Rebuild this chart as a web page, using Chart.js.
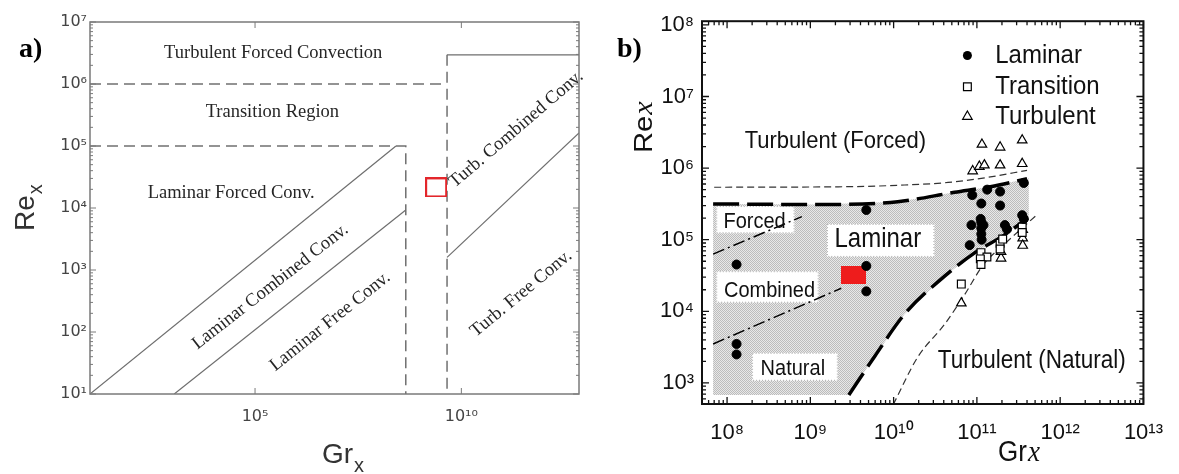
<!DOCTYPE html>
<html>
<head>
<meta charset="utf-8">
<title>Mixed convection regime maps</title>
<script src="https://cdn.jsdelivr.net/npm/chart.js@4.4.1/dist/chart.umd.min.js"></script>
<style>
  html, body { margin: 0; padding: 0; background: #fff; }
  #page { position: relative; width: 1179px; height: 474px; overflow: hidden; background: #fff; }
  #regimeA { position: absolute; left: 0; top: 0; }
  #regimeB { position: absolute; left: 590px; top: 0; }
</style>
</head>
<body>
<div id="page">
  <canvas id="regimeA" width="590" height="474"></canvas>
  <canvas id="regimeB" width="589" height="474"></canvas>
</div>
<script>
// ---- a) regime map: boundary lines (Gr_x, Re_x) ----
const aLamForcedGr = [10, 2.6e8];
const aLamForcedRe = [10, 1e5];
const aLamFreeGr = [1.1e3, 4.5e8];
const aLamFreeRe = [10, 9.3e3];
const aTurbFreeGr = [4.5e9, 7.1e12];
const aTurbFreeRe = [1.6e3, 1.62e5];
const aTurbForcedGr = [4.5e9, 7.1e12];
const aTurbForcedRe = [2.95e6, 2.95e6];
const aTransLowGr = [10, 4.5e8, 4.5e8];
const aTransLowRe = [1e5, 1e5, 10];
const aTransHighGr = [10, 4.5e9];
const aTransHighRe = [1e6, 1e6];
const aTransVertGr = [4.5e9, 4.5e9];
const aTransVertRe = [2.95e6, 10];
const aCaseGr = [2.45e9];
const aCaseRe = [2.15e4];

const aXTickValues = [1e5, 1e10];
const aXTickLabels = ['10⁵', '10¹⁰'];
const aYTickValues = [1e1, 1e2, 1e3, 1e4, 1e5, 1e6, 1e7];
const aYTickLabels = ['10¹', '10²', '10³', '10⁴', '10⁵', '10⁶', '10⁷'];

// ---- b) measurements and boundaries ----
const bLamGr = [1.3e8, 1.3e8, 1.3e8, 4.7e9, 4.7e9, 4.7e9, 8.8e10, 1.33e11, 1.9e11, 3.66e11, 1.13e11, 1.9e11,
                1.11e11, 8.6e10, 1.13e11, 1.13e11, 1.13e11, 1.14e11, 8.2e10, 2.17e11, 3.5e11, 3.66e11, 2.3e11, 1.2e11];
const bLamRe = [4.5e4, 3.5e3, 2.5e3, 2.6e5, 4.3e4, 1.9e4, 4.2e5, 5.0e5, 4.7e5, 6.2e5, 3.2e5, 3.0e5,
                1.95e5, 1.6e5, 1.75e5, 1.45e5, 1.2e5, 1.0e5, 8.4e4, 1.6e5, 2.2e5, 1.95e5, 1.4e5, 1.6e5];
const bTransGr = [6.5e10, 1.12e11, 1.32e11, 1.1e11, 1.12e11, 1.9e11, 2.04e11, 1.9e11, 3.5e11, 3.5e11];
const bTransRe = [2.4e4, 6.6e4, 5.75e4, 5.4e4, 4.5e4, 8.9e4, 1.02e5, 7.4e4, 1.5e5, 1.26e5];
const bTurbGr = [1.15e11, 1.9e11, 3.5e11, 8.9e10, 1.07e11, 1.23e11, 1.9e11, 3.5e11, 3.55e11, 3.55e11, 3.55e11, 1.95e11, 1.95e11, 6.5e10];
const bTurbRe = [2.14e6, 1.95e6, 2.45e6, 9.1e5, 1.05e6, 1.1e6, 1.1e6, 1.15e6, 1.38e5, 1.05e5, 8.3e4, 5.5e4, 6.8e4, 1.3e4];
const bCaseGr = [3.3e9];
const bCaseRe = [3.2e4];

const bCritGr = [7.0e7, 2.9e9, 1.12e10, 4.5e10, 1.32e11, 4.0e11];
const bCritRe = [5.4e5, 5.5e5, 5.75e5, 6.3e5, 7.4e5, 9.3e5];
const bLamTopGr = [6.8e7, 1.26e9, 1.12e10, 5.4e10, 1.45e11, 4.0e11];
const bLamTopRe = [3.16e5, 3.1e5, 3.4e5, 4.6e5, 5.5e5, 7.1e5];
const bLamLowGr = [2.9e9, 6.0e9, 1.35e10, 4.1e10, 9.3e10, 2.1e11, 4.1e11];
const bLamLowRe = [680, 2.4e3, 9.1e3, 3.1e4, 6.5e4, 1.15e5, 2.0e5];
const bNatTurbGr = [9.9e9, 1.95e10, 4.1e10, 7.1e10, 1.2e11, 2.1e11, 5.2e11];
const bNatTurbRe = [500, 2.3e3, 6.6e3, 1.7e4, 4.5e4, 8.5e4, 2.2e5];
const bMixHiGr = [6.8e7, 7.9e8];
const bMixHiRe = [6.3e4, 2.1e5];
const bMixLoGr = [6.8e7, 2.35e9];
const bMixLoRe = [3.5e3, 2.1e4];
const bRegionGr = [6.8e7, 1.26e9, 1.12e10, 5.4e10, 1.45e11, 4.2e11, 4.2e11, 2.1e11, 9.3e10, 4.1e10, 1.35e10, 6.0e9, 2.9e9, 6.8e7, 6.8e7];
const bRegionRe = [3.16e5, 3.1e5, 3.4e5, 4.6e5, 5.5e5, 7.2e5, 2.0e5, 1.15e5, 6.5e4, 3.1e4, 9.1e3, 2.4e3, 680, 680, 3.16e5];

const bXTickValues = [1e8, 1e9, 1e10, 1e11, 1e12, 1e13];
const bXTickLabels = ['10⁸', '10⁹', '10¹⁰', '10¹¹', '10¹²', '10¹³'];
const bYTickValues = [1e3, 1e4, 1e5, 1e6, 1e7, 1e8];
const bYTickLabels = ['10³', '10⁴', '10⁵', '10⁶', '10⁷', '10⁸'];

const SANS = '"Liberation Sans", Arial, sans-serif';
const SERIF = '"Liberation Serif", "Times New Roman", serif';

const pts = (gr, re) => gr.map((g, i) => ({ x: g, y: re[i] }));

function logTicks(min, max, minor) {
  const out = [];
  for (let e = Math.floor(Math.log10(min)); e <= Math.ceil(Math.log10(max)); e++) {
    for (let m = 1; m < 10; m++) {
      if (m > 1 && !minor) continue;
      const v = m * Math.pow(10, e);
      if (v < min * 0.9999 || v > max * 1.0001) continue;
      out.push({ value: v, major: m === 1 });
    }
  }
  return out;
}

function labelFrom(values, labels) {
  return v => {
    const i = values.findIndex(t => Math.abs(t - v) <= t * 1e-6);
    return i < 0 ? '' : labels[i];
  };
}

function logAxis(min, max, tickList, labels, tickFont, color, pad, size, horizontal) {
  return {
    type: 'logarithmic', min, max, bounds: 'data',
    grid: { display: false, drawTicks: false },
    border: { display: false },
    afterBuildTicks: s => { s.ticks = tickList.map(t => ({ ...t })); },
    afterFit: s => { if (horizontal) s.height = size; else s.width = size; },
    ticks: { autoSkip: false, maxRotation: 0, minRotation: 0, padding: pad, color, font: tickFont, callback: labels }
  };
}

function makeRectMarker(w, h, fill, stroke, lw) {
  const c = document.createElement('canvas');
  c.width = w; c.height = h;
  const g = c.getContext('2d');
  if (fill) { g.fillStyle = fill; g.fillRect(0, 0, w, h); }
  if (stroke) { g.strokeStyle = stroke; g.lineWidth = lw; g.strokeRect(lw / 2, lw / 2, w - lw, h - lw); }
  return c;
}

function stipple(ctx) {
  const c = document.createElement('canvas');
  c.width = 2; c.height = 2;
  const g = c.getContext('2d');
  g.fillStyle = '#e8e8e8'; g.fillRect(0, 0, 2, 2);
  g.fillStyle = '#bcbcbc'; g.fillRect(0, 0, 1, 1); g.fillRect(1, 1, 1, 1);
  return ctx.createPattern(c, 'repeat');
}

function line(gr, re, dash, width, color, smooth) {
  return {
    type: 'line', data: pts(gr, re), borderColor: color, borderWidth: width, borderDash: dash,
    pointRadius: 0, fill: false, tension: 0, cubicInterpolationMode: smooth ? 'monotone' : 'default', order: 2
  };
}

function drawFrame(chart, st) {
  const { ctx, chartArea: a, scales: { x, y } } = chart;
  ctx.save();
  ctx.strokeStyle = st.color;
  ctx.lineWidth = st.tick;
  ctx.beginPath();
  y.ticks.forEach(t => {
    const p = y.getPixelForValue(t.value);
    const len = t.major ? st.major : st.minor;
    ctx.moveTo(a.left, p); ctx.lineTo(a.left + len, p);
    ctx.moveTo(a.right, p); ctx.lineTo(a.right - len, p);
  });
  x.ticks.forEach(t => {
    const p = x.getPixelForValue(t.value);
    const len = t.major ? st.major : st.minor;
    ctx.moveTo(p, a.bottom); ctx.lineTo(p, a.bottom - len);
    ctx.moveTo(p, a.top); ctx.lineTo(p, a.top + len);
  });
  ctx.stroke();
  ctx.lineWidth = st.width;
  ctx.strokeRect(a.left, a.top, a.right - a.left, a.bottom - a.top);
  ctx.restore();
}

function label(ctx, str, x, y, font, color, angle, sy) {
  ctx.save();
  ctx.translate(x, y);
  if (angle) ctx.rotate(angle * Math.PI / 180);
  if (sy) ctx.scale(1, sy);
  ctx.font = font;
  ctx.fillStyle = color;
  ctx.textAlign = 'center';
  ctx.textBaseline = 'middle';
  ctx.fillText(str, 0, 0);
  ctx.restore();
}

const at = (chart, gr, re) => [chart.scales.x.getPixelForValue(Math.pow(10, gr)), chart.scales.y.getPixelForValue(Math.pow(10, re))];

// ---------- panel a ----------
const aNotes = [
  { t: 'Turbulent Forced Convection', gr: 5.44, re: 6.495, rot: 0 },
  { t: 'Transition Region', gr: 5.42, re: 5.54, rot: 0 },
  { t: 'Laminar Forced Conv.', gr: 4.42, re: 4.24, rot: 0 },
  { t: 'Laminar Combined Conv.', gr: 5.37, re: 2.73, rot: -38 },
  { t: 'Laminar Free Conv.', gr: 6.82, re: 2.17, rot: -38.5 },
  { t: 'Turb. Combined Conv.', gr: 11.33, re: 5.27, rot: -40.5 },
  { t: 'Turb. Free Conv.', gr: 11.45, re: 2.62, rot: -39.5 }
];

const mapA = {
  id: 'mapA',
  afterDraw(chart) {
    const ctx = chart.ctx;
    drawFrame(chart, { color: '#7a7a7a', width: 1.5, tick: 1, major: 6, minor: 3 });
    aNotes.forEach(n => {
      const [x, y] = at(chart, n.gr, n.re);
      label(ctx, n.t, x, y, '18.5px ' + SERIF, '#262626', n.rot);
    });
    ctx.save();
    ctx.fillStyle = '#333';
    ctx.textAlign = 'left';
    ctx.textBaseline = 'alphabetic';
    ctx.font = '28px ' + SANS;
    ctx.fillText('Gr', 322, 463);
    let w = ctx.measureText('Gr').width;
    ctx.font = '20px ' + SANS;
    ctx.fillText('x', 322 + w + 1, 472);
    ctx.save();
    ctx.translate(34, 231);
    ctx.rotate(-Math.PI / 2);
    ctx.font = '28px ' + SANS;
    ctx.fillText('Re', 0, 0);
    w = ctx.measureText('Re').width;
    ctx.font = '20px ' + SANS;
    ctx.fillText('x', w + 1, 8);
    ctx.restore();
    ctx.fillStyle = '#000';
    ctx.font = 'bold 28px ' + SERIF;
    ctx.fillText('a)', 19, 57);
    ctx.restore();
  }
};

const tickFontA = { family: '"DejaVu Sans", ' + SANS, size: 16 };
new Chart(document.getElementById('regimeA'), {
  type: 'scatter',
  data: {
    datasets: [
      line(aLamForcedGr, aLamForcedRe, [], 1.2, '#6e6e6e'),
      line(aLamFreeGr, aLamFreeRe, [], 1.2, '#6e6e6e'),
      line(aTurbFreeGr, aTurbFreeRe, [], 1.2, '#6e6e6e'),
      line(aTurbForcedGr, aTurbForcedRe, [], 1.2, '#6e6e6e'),
      line(aTransLowGr, aTransLowRe, [11, 6], 1.5, '#707070'),
      line(aTransHighGr, aTransHighRe, [11, 6], 1.5, '#707070'),
      line(aTransVertGr, aTransVertRe, [11, 6], 1.5, '#707070'),
      { label: 'present case', data: pts(aCaseGr, aCaseRe), pointStyle: makeRectMarker(22, 20, null, '#e3262b', 2),
        pointRadius: 10, pointHoverRadius: 10, order: 0 }
    ]
  },
  options: {
    responsive: false, animation: false, devicePixelRatio: 1, events: [],
    layout: { padding: { top: 22, right: 1, left: 0, bottom: 0 } },
    plugins: { legend: { display: false }, tooltip: { enabled: false } },
    scales: {
      x: logAxis(10, 7.1e12, aXTickValues.map(v => ({ value: v, major: true })), labelFrom(aXTickValues, aXTickLabels),
                 tickFontA, '#444', 13, 80, true),
      y: logAxis(10, 1e7, logTicks(10, 1e7, true), labelFrom(aYTickValues, aYTickLabels),
                 tickFontA, '#444', 3, 90, false)
    }
  },
  plugins: [mapA]
});

// ---------- panel b ----------
const bBoxes = [
  { gr: [7.87, 8.81], re: [5.09, 5.47] },
  { gr: [7.87, 9.10], re: [4.12, 4.56] },
  { gr: [8.30, 9.33], re: [3.03, 3.42] },
  { gr: [9.20, 10.49], re: [4.76, 5.22] }
];
const bNotes = [
  { t: 'Turbulent (Forced)', gr: 9.30, re: 6.376, size: 22 },
  { t: 'Turbulent (Natural)', gr: 11.66, re: 3.30, size: 22.5 },
  { t: 'Laminar', gr: 9.81, re: 5.0, size: 24 },
  { t: 'Forced', gr: 8.33, re: 5.25, size: 20 },
  { t: 'Combined', gr: 8.51, re: 4.28, size: 20 },
  { t: 'Natural', gr: 8.79, re: 3.20, size: 20 }
];
const bLegend = [
  { t: 'Laminar', mark: 'circle', re: 7.572 },
  { t: 'Transition', mark: 'square', re: 7.135 },
  { t: 'Turbulent', mark: 'triangle', re: 6.72 }
];

function marker(ctx, kind, x, y) {
  ctx.save();
  ctx.strokeStyle = '#000';
  ctx.lineWidth = 1.2;
  ctx.beginPath();
  if (kind === 'circle') {
    ctx.arc(x, y, 4.5, 0, Math.PI * 2);
    ctx.fillStyle = '#000';
    ctx.fill();
  } else if (kind === 'square') {
    ctx.rect(x - 3.9, y - 3.9, 7.8, 7.8);
    ctx.stroke();
  } else {
    const r = 5.5;
    ctx.moveTo(x, y - r);
    ctx.lineTo(x + r * 0.866, y + r * 0.5);
    ctx.lineTo(x - r * 0.866, y + r * 0.5);
    ctx.closePath();
    ctx.stroke();
  }
  ctx.restore();
}

const mapB = {
  id: 'mapB',
  afterDatasetDraw(chart, args) {
    if (chart.data.datasets[args.index].label !== 'Laminar region') return;
    const ctx = chart.ctx;
    ctx.save();
    bBoxes.forEach(b => {
      const [x1, y1] = at(chart, b.gr[0], b.re[1]);
      const [x2, y2] = at(chart, b.gr[1], b.re[0]);
      ctx.fillStyle = '#fff';
      ctx.fillRect(x1, y1, x2 - x1, y2 - y1);
      ctx.setLineDash([1, 2]);
      ctx.strokeStyle = '#a8a8a8';
      ctx.lineWidth = 1;
      ctx.strokeRect(x1 + 0.5, y1 + 0.5, x2 - x1 - 1, y2 - y1 - 1);
    });
    ctx.restore();
  },
  afterDraw(chart) {
    const ctx = chart.ctx;
    drawFrame(chart, { color: '#111', width: 2, tick: 1.3, major: 7, minor: 4 });
    bNotes.forEach(n => {
      const [x, y] = at(chart, n.gr, n.re);
      label(ctx, n.t, x, y, n.size + 'px ' + SANS, '#111', 0, 1.12);
    });
    bLegend.forEach(l => {
      const [mx, my] = at(chart, 10.886, l.re);
      marker(ctx, l.mark, mx, my);
      const tx = chart.scales.x.getPixelForValue(Math.pow(10, 11.22));
      ctx.save();
      ctx.translate(tx, my);
      ctx.scale(1, 1.1);
      ctx.font = '24px ' + SANS;
      ctx.fillStyle = '#111';
      ctx.textAlign = 'left';
      ctx.textBaseline = 'middle';
      ctx.fillText(l.t, 0, 0);
      ctx.restore();
    });
    ctx.save();
    ctx.fillStyle = '#111';
    ctx.textAlign = 'left';
    ctx.textBaseline = 'alphabetic';
    ctx.save();
    ctx.translate(408, 461);
    ctx.scale(1, 1.12);
    ctx.font = '26px ' + SANS;
    ctx.fillText('Gr', 0, 0);
    let w = ctx.measureText('Gr').width;
    ctx.font = 'italic 27px ' + SERIF;
    ctx.fillText('x', w + 1, 0);
    ctx.restore();
    ctx.save();
    ctx.translate(62, 153);
    ctx.rotate(-Math.PI / 2);
    ctx.scale(1.12, 1);
    ctx.font = '26px ' + SANS;
    ctx.fillText('Re', 0, 0);
    w = ctx.measureText('Re').width;
    ctx.font = 'italic 27px ' + SERIF;
    ctx.fillText('x', w + 1, 0);
    ctx.restore();
    ctx.fillStyle = '#000';
    ctx.font = 'bold 28px ' + SERIF;
    ctx.fillText('b)', 27, 57);
    ctx.restore();
  }
};

const canvasB = document.getElementById('regimeB');
const tickFontB = { family: SANS, size: 22 };
new Chart(canvasB, {
  type: 'scatter',
  data: {
    datasets: [
      { label: 'Laminar', data: pts(bLamGr, bLamRe), pointStyle: 'circle', pointRadius: 4.5, pointHoverRadius: 4.5,
        backgroundColor: '#000', borderColor: '#000', borderWidth: 1, order: 0 },
      { label: 'Transition', data: pts(bTransGr, bTransRe), pointStyle: 'rect', pointRadius: 5.5, pointHoverRadius: 5.5,
        backgroundColor: '#fff', borderColor: '#000', borderWidth: 1.2, order: 0 },
      { label: 'Turbulent', data: pts(bTurbGr, bTurbRe), pointStyle: 'triangle', pointRadius: 5.5, pointHoverRadius: 5.5,
        backgroundColor: '#fff', borderColor: '#000', borderWidth: 1.2, order: 0 },
      { label: 'present case', data: pts(bCaseGr, bCaseRe), pointStyle: makeRectMarker(25, 18, '#ee1c1c'),
        pointRadius: 12, pointHoverRadius: 12, order: 1 },
      line(bCritGr, bCritRe, [7, 4], 1.2, '#333', true),
      line(bLamTopGr, bLamTopRe, [26, 8], 3.5, '#000', true),
      line(bLamLowGr, bLamLowRe, [26, 8], 3.5, '#000', true),
      line(bNatTurbGr, bNatTurbRe, [7, 4], 1.2, '#333', true),
      line(bMixHiGr, bMixHiRe, [12, 4, 2, 4], 1.5, '#000'),
      line(bMixLoGr, bMixLoRe, [12, 4, 2, 4], 1.5, '#000'),
      { type: 'line', label: 'Laminar region', data: pts(bRegionGr, bRegionRe), fill: 'shape',
        backgroundColor: stipple(canvasB.getContext('2d')), borderColor: 'rgba(0,0,0,0)', borderWidth: 0,
        pointRadius: 0, tension: 0, order: 5 }
    ]
  },
  options: {
    responsive: false, animation: false, devicePixelRatio: 1, events: [],
    layout: { padding: { top: 17, right: 32, left: 0, bottom: 0 } },
    plugins: { legend: { display: false }, tooltip: { enabled: false } },
    scales: {
      x: logAxis(5.0e7, 1e13, logTicks(5.0e7, 1e13, true), labelFrom(bXTickValues, bXTickLabels),
                 tickFontB, '#111', 16, 70, true),
      y: logAxis(508, 1.125e8, logTicks(508, 1.125e8, true), labelFrom(bYTickValues, bYTickLabels),
                 tickFontB, '#111', 8, 112, false)
    }
  },
  plugins: [mapB]
});
</script>
</body>
</html>
